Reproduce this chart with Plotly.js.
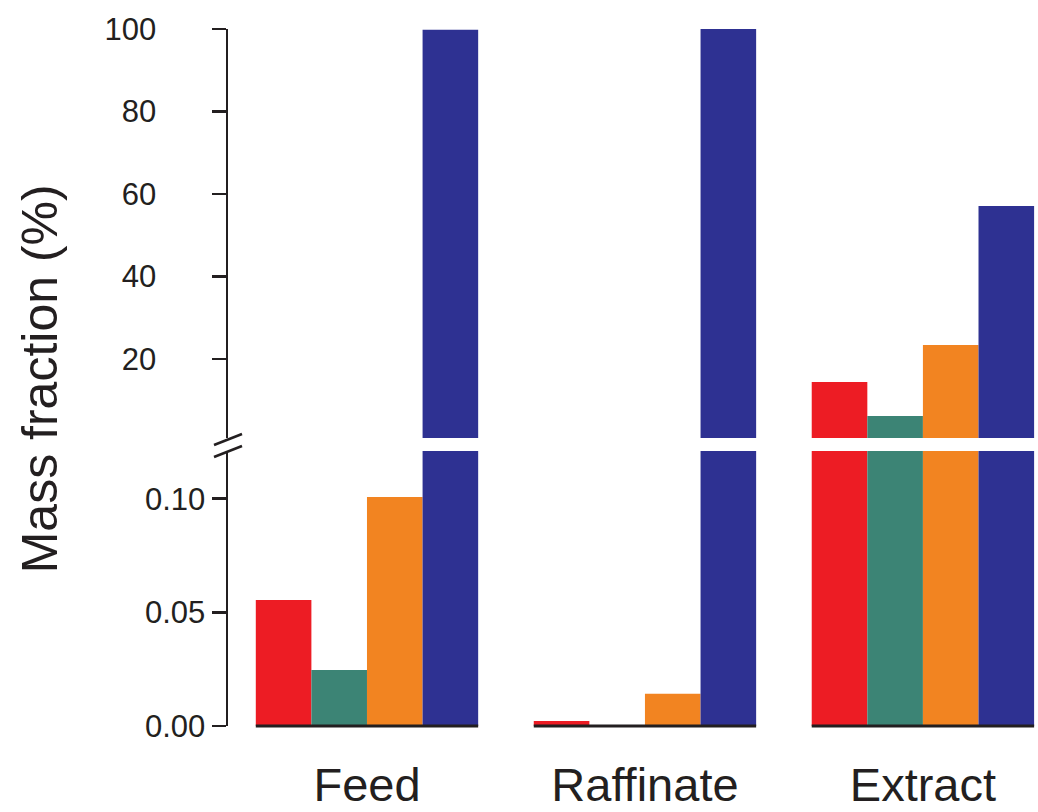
<!DOCTYPE html>
<html>
<head>
<meta charset="utf-8">
<script src="https://cdn.plot.ly/plotly-3.0.1.min.js"></script>
<style>html,body{margin:0;padding:0;background:#fff;}#chart{width:1038px;height:812px;}</style>
</head>
<body>
<div id="chart"></div>
<script>
const categories = ["Feed", "Raffinate", "Extract"];
const seriesNames = ["Component A", "Component B", "Component C", "Component D"];
const seriesA = [0.0554, 0.0022, 14.4];
const seriesB = [0.0246, 0.0, 6.2];
const seriesC = [0.1007, 0.0142, 23.4];
const seriesD = [99.8, 100.0, 57.1];
const seriesColors = ["#ED1C24", "#3C8475", "#F28421", "#2E3192"];
const upperTicks = [20, 40, 60, 80, 100];
const lowerTicks = [0, 0.05, 0.10];
const yTitle = "Mass fraction (%)";

const allSeries = [seriesA, seriesB, seriesC, seriesD];
const traces = [];
["y", "y2"].forEach(function (ax) {
  allSeries.forEach(function (vals, i) {
    traces.push({
      type: "bar",
      x: categories,
      y: vals,
      name: seriesNames[i],
      xaxis: "x",
      yaxis: ax,
      marker: { color: seriesColors[i], line: { width: 0 } },
      showlegend: false,
      hoverinfo: "x+y+name"
    });
  });
});

const ink = "#231f20";
const font = { family: "Liberation Sans, Arial, Helvetica, sans-serif", color: ink };

const gapCenter = (0.3946 + 0.4132) / 2;
const shapes = [];
categories.forEach(function (c, i) {
  shapes.push({
    type: "line", xref: "x", yref: "y domain",
    x0: i - 0.4, x1: i + 0.4, y0: 0, y1: 0,
    line: { color: ink, width: 3 }, layer: "above"
  });
});
// break marks on the y axis
[[-12.5, -1.5], [-0.5, 10.5]].forEach(function (p) {
  shapes.push({
    type: "line", xref: "paper", yref: "paper",
    xsizemode: "pixel", ysizemode: "pixel",
    xanchor: 0, yanchor: gapCenter,
    x0: -14, x1: 14, y0: p[0], y1: p[1],
    line: { color: ink, width: 2.5 }
  });
});

const layout = {
  width: 1038, height: 812,
  margin: { l: 228, r: 0, t: 29, b: 86, pad: 0 },
  paper_bgcolor: "#fff", plot_bgcolor: "rgba(0,0,0,0)",
  barmode: "group", bargap: 0.2, bargroupgap: 0,
  showlegend: false,
  font: font,
  xaxis: {
    type: "category", range: [-0.5, 2.414], anchor: "y",
    showline: false, ticks: "", showgrid: false, zeroline: false,
    tickfont: { family: font.family, color: ink, size: 47 },
    ticklabelstandoff: 27
  },
  yaxis: {
    domain: [0, 0.3946], range: [0, 0.121], anchor: "x",
    tickvals: lowerTicks, tickformat: ".2f",
    showline: true, linecolor: ink, linewidth: 2.5,
    ticks: "outside", ticklen: 14, tickwidth: 2.5, tickcolor: ink,
    showgrid: false, zeroline: false,
    tickfont: { family: font.family, color: ink, size: 31 },
    ticklabelstandoff: 0
  },
  yaxis2: {
    domain: [0.4132, 1], range: [0.85, 100], anchor: "x",
    tickvals: upperTicks,
    showline: true, linecolor: ink, linewidth: 2.5,
    ticks: "outside", ticklen: 14, tickwidth: 2.5, tickcolor: ink,
    showgrid: false, zeroline: false,
    tickfont: { family: font.family, color: ink, size: 31 },
    ticklabelstandoff: 49
  },
  shapes: shapes,
  annotations: [{
    text: yTitle, xref: "paper", yref: "paper",
    x: -0.232, y: 0.4975, xanchor: "center", yanchor: "middle",
    textangle: -90, showarrow: false,
    font: { family: font.family, color: ink, size: 50 }
  }]
};

Plotly.newPlot("chart", traces, layout, { displayModeBar: false, staticPlot: true });
</script>
</body>
</html>
